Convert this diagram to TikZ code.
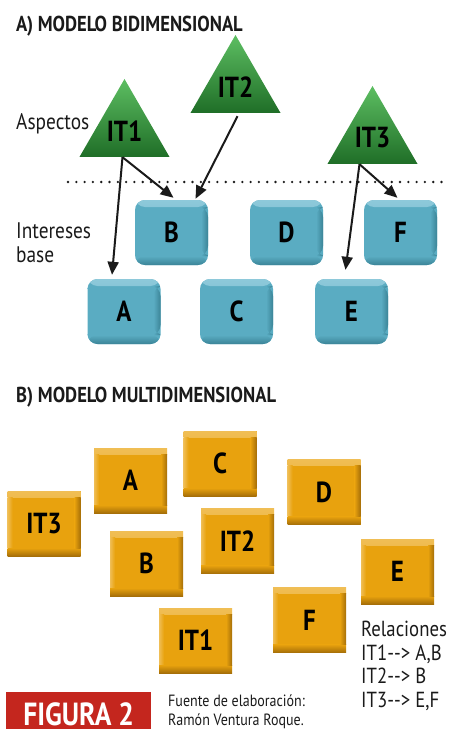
\documentclass[tikz,border=0pt]{standalone}
\usepackage{fontspec}
\setmainfont{PT Sans}
\newfontfamily\estrecha[FakeStretch=0.86]{PT Sans}
\usetikzlibrary{shapes.geometric,arrows.meta}

\definecolor{verde}{HTML}{34A03E}
\definecolor{verdeclaro}{HTML}{5DBE62}
\definecolor{verdeoscuro}{HTML}{1F6E27}
\definecolor{azul}{HTML}{5AACC2}
\definecolor{azulclaro}{HTML}{8EC9DA}
\definecolor{azuloscuro}{HTML}{3B8497}
\definecolor{naranja}{HTML}{E8A20E}
\definecolor{naranjaclaro}{HTML}{F0BE55}
\definecolor{naranjaoscuro}{HTML}{A66F08}
\definecolor{rojo}{HTML}{C4261E}
\definecolor{tinta}{HTML}{1A1A1A}

\newcommand{\Titulo}{\estrecha\bfseries\fontsize{21.6}{23}\selectfont}
\newcommand{\Rotulo}{\estrecha\bfseries\fontsize{29}{31}\selectfont}
\newcommand{\Texto}{\estrecha\fontsize{22.5}{23.5}\selectfont}
\newcommand{\Fuente}{\estrecha\fontsize{16.3}{18.5}\selectfont}

\tikzset{
  aspecto/.style={regular polygon, regular polygon sides=3, minimum size=104pt,
    inner sep=0pt, top color=verdeclaro, middle color=verde, bottom color=verdeoscuro,
    text=black, font=\Rotulo},
  interes/.style={rounded corners=10pt, minimum width=73pt, minimum height=65pt,
    inner sep=0pt, fill=azul, text=black, font=\Rotulo,
    path picture={
      \shade[top color=azulclaro, bottom color=azul]
        (path picture bounding box.north west) rectangle ([yshift=-7pt]path picture bounding box.north east);
      \shade[top color=azul, bottom color=azuloscuro]
        ([yshift=9pt]path picture bounding box.south west) rectangle (path picture bounding box.south east);
      \shade[left color=azul, right color=azuloscuro]
        ([xshift=-7pt,yshift=-7pt]path picture bounding box.north east) rectangle ([yshift=9pt]path picture bounding box.south east);
    }},
  bloque/.style={minimum width=73pt, minimum height=65pt, inner sep=0pt,
    fill=naranja, text=black, font=\Rotulo,
    path picture={
      \shade[top color=naranjaclaro, bottom color=naranja]
        (path picture bounding box.north west) rectangle ([yshift=-6pt]path picture bounding box.north east);
      \shade[left color=naranjaclaro, right color=naranja]
        ([yshift=-6pt]path picture bounding box.north west) rectangle ([xshift=5pt,yshift=8pt]path picture bounding box.south west);
      \shade[top color=naranja, bottom color=naranjaoscuro]
        ([yshift=8pt]path picture bounding box.south west) rectangle (path picture bounding box.south east);
      \shade[left color=naranja, right color=naranjaoscuro]
        ([xshift=-6pt,yshift=-6pt]path picture bounding box.north east) rectangle ([yshift=8pt]path picture bounding box.south east);
    }},
  flecha/.style={-{Triangle[length=13pt,width=11pt]}, line width=2pt, draw=tinta},
  texto/.style={anchor=base west, inner sep=0pt, text=tinta}
}

\begin{document}
\begin{tikzpicture}[x=1pt,y=-1pt]
\useasboundingbox (0,0) rectangle (448,730);

% A) modelo bidimensional
\node[texto, font=\Titulo] (tituloA) at (16,31.5) {A) MODELO BIDIMENSIONAL};
\node[texto, font=\Texto] (aspectos) at (16,130) {Aspectos};
\node[texto, font=\Texto, align=left] (intereses) at (16,262) {Intereses\\base};

\coordinate (sep-izq) at (68,182);
\coordinate (sep-der) at (448,182);
\draw[tinta, line width=2.6pt, line cap=round, dash pattern=on 0pt off 8.3pt] (sep-izq) -- (sep-der);

\node[aspecto] (IT1) at (124.5,131) {IT1};
\node[aspecto] (IT2) at (235.5,87) {IT2};
\node[aspecto] (IT3) at (372.5,138) {IT3};

\node[interes] (B) at (171.5,232.5) {B};
\node[interes] (D) at (286.5,232.5) {D};
\node[interes] (F) at (400.5,232.5) {F};
\node[interes] (A) at (124,311.5) {A};
\node[interes] (C) at (236.5,311.5) {C};
\node[interes] (E) at (351.5,311.5) {E};

\draw[flecha] ([xshift=-2pt]IT1.side 2) -- ([xshift=-12pt,yshift=4pt]A.north);
\draw[flecha] ([xshift=-2pt]IT1.side 2) -- ([xshift=2pt,yshift=2pt]B.north);
\draw[flecha] ([xshift=2pt,yshift=-3pt]IT2.side 2) -- ([xshift=24pt,yshift=1pt]B.north);
\draw[flecha] ([xshift=-13pt]IT3.side 2) -- ([xshift=-6pt,yshift=9pt]E.north);
\draw[flecha] ([xshift=-13pt]IT3.side 2) -- ([xshift=-3pt,yshift=2pt]F.north);

% B) modelo multidimensional
\node[texto, font=\Titulo] (tituloB) at (16,402) {B) MODELO MULTIDIMENSIONAL};

\node[bloque] (mA) at (130.5,480.5) {A};
\node[bloque] (mC) at (220,463.5) {C};
\node[bloque] (mD) at (324,492) {D};
\node[bloque] (mIT3) at (44,523.5) {IT3};
\node[bloque] (mB) at (146.5,563.5) {B};
\node[bloque] (mIT2) at (237.5,541) {IT2};
\node[bloque] (mE) at (397.5,571.5) {E};
\node[bloque] (mF) at (309.5,620) {F};
\node[bloque] (mIT1) at (195.5,640.5) {IT1};

\node[texto, font=\estrecha\fontsize{21.8}{23.5}\selectfont, align=left] (relaciones) at (361,707)
  {Relaciones\\IT1--> A,B\\IT2--> B\\IT3--> E,F};

\node[texto, font=\Fuente, align=left] (fuente) at (168,725)
  {Fuente de elaboración:\\Ramón Ventura Roque.};

\node[fill=rojo, anchor=north west, minimum width=145pt, minimum height=37pt,
  inner sep=0pt, text height=30pt, text depth=0pt, text=white,
  font=\estrecha\bfseries\fontsize{32}{33}\selectfont]
  (figura) at (6,692) {FIGURA 2};
\end{tikzpicture}
\end{document}
